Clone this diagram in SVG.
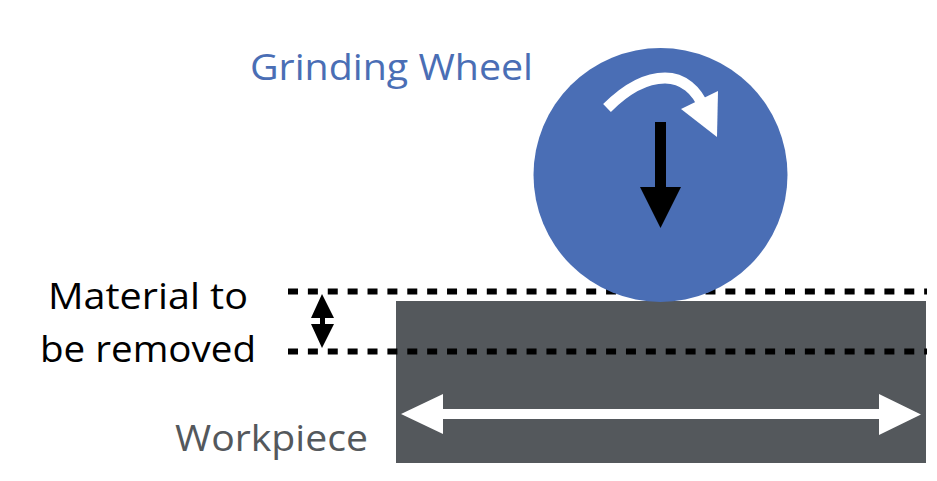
<svg xmlns="http://www.w3.org/2000/svg" width="937" height="481" viewBox="0 0 937 481">
<style>
text{font-family:"Open Sans","Noto Sans","Liberation Sans",sans-serif;font-size:37px}
.dash{stroke:#000;stroke-width:6;stroke-dasharray:10 9.880;fill:none}
</style>
<rect width="937" height="481" fill="#fff"/>
<g id="workpiece"><rect x="396" y="301" width="530" height="162" fill="#54585c"/></g>
<g id="connectors-back">
<path class="dash" d="M288 291.500H927"/>
</g>
<g id="wheel"><circle cx="660.500" cy="175" r="127" fill="#4a6eb5"/></g>
<g id="connectors">
<path class="dash" d="M288 351.500H927"/>
<path d="M607 108C625 90 645 78 665 78C683 78 697 90 704 108" fill="none" stroke="#fff" stroke-width="11"/>
<path d="M718 91L717 137L681 109Z" fill="#fff"/>
<path d="M655 122H666V187H681L660.500 228L640 187H655Z" fill="#000"/>
<path d="M322 294L334 318H325V324H334L322 348L311 324H320V318H311Z" fill="#000"/>
<path d="M401 414L443 394V409H879V394L921 414.500L879 435V419H443V434Z" fill="#fff"/>
</g>
<g id="labels">
<text x="250" y="80" fill="#4a6eb5" textLength="283" lengthAdjust="spacingAndGlyphs">Grinding Wheel</text>
<text x="48" y="309" fill="#000" textLength="200" lengthAdjust="spacingAndGlyphs">Material to</text>
<text x="40" y="362" fill="#000" textLength="216" lengthAdjust="spacingAndGlyphs">be removed</text>
<text x="175" y="451" fill="#54585c" textLength="193" lengthAdjust="spacingAndGlyphs">Workpiece</text>
</g>
</svg>
